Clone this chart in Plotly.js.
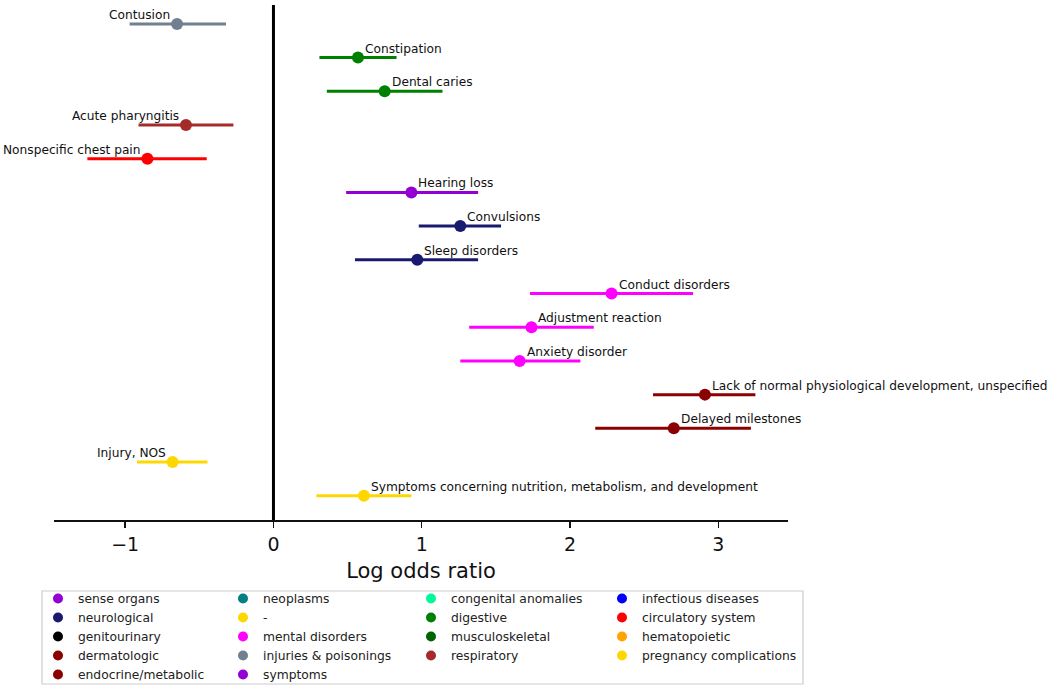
<!DOCTYPE html>
<html>
<head>
<meta charset="utf-8">
<script src="https://cdn.plot.ly/plotly-3.0.1.min.js"></script>
<style>html,body{margin:0;padding:0;background:#fff}#chart{width:1050px;height:689px}</style>
</head>
<body>
<div id="chart"></div>
<script>
// diagnoses, top to bottom
var diagnoses = ["Contusion", "Constipation", "Dental caries", "Acute pharyngitis",
  "Nonspecific chest pain", "Hearing loss", "Convulsions", "Sleep disorders",
  "Conduct disorders", "Adjustment reaction", "Anxiety disorder",
  "Lack of normal physiological development, unspecified", "Delayed milestones",
  "Injury, NOS", "Symptoms concerning nutrition, metabolism, and development"];
var logOdds = [-0.65, 0.57, 0.75, -0.59, -0.85, 0.93, 1.26, 0.97, 2.28, 1.74, 1.66, 2.91, 2.70, -0.68, 0.61];
var ciLow   = [-0.97, 0.31, 0.36, -0.91, -1.255, 0.49, 0.98, 0.55, 1.73, 1.32, 1.26, 2.56, 2.17, -0.92, 0.29];
var ciHigh  = [-0.32, 0.83, 1.14, -0.27, -0.45, 1.38, 1.535, 1.38, 2.83, 2.16, 2.07, 3.25, 3.22, -0.445, 0.93];
var pointColors = ["#708090", "#008000", "#008000", "#a52a2a", "#ff0000", "#9400d3",
  "#191970", "#191970", "#ff00ff", "#ff00ff", "#ff00ff", "#8b0000", "#8b0000", "#ffd700", "#ffd700"];

// legend categories (column-major, 4 columns)
var categories = ["sense organs", "neurological", "genitourinary", "dermatologic", "endocrine/metabolic",
  "neoplasms", "-", "mental disorders", "injuries & poisonings", "symptoms",
  "congenital anomalies", "digestive", "musculoskeletal", "respiratory",
  "infectious diseases", "circulatory system", "hematopoietic", "pregnancy complications"];
var categoryColors = ["#9400d3", "#191970", "#000000", "#8b0000", "#8b0000",
  "#008080", "#ffd700", "#ff00ff", "#708090", "#9400d3",
  "#00fa9a", "#008000", "#006400", "#a52a2a",
  "#0000ff", "#ff0000", "#ffa500", "#ffd700"];
var categoryColumn = [1, 1, 1, 1, 1, 2, 2, 2, 2, 2, 3, 3, 3, 3, 4, 4, 4, 4];

var data = [];
var annotations = [];
diagnoses.forEach(function (name, i) {
  data.push({
    x: [logOdds[i]], y: [name], type: "scatter", mode: "markers",
    marker: {size: 12, color: pointColors[i]},
    error_x: {type: "data", symmetric: false,
      array: [ciHigh[i] - logOdds[i]], arrayminus: [logOdds[i] - ciLow[i]],
      color: pointColors[i], thickness: 3, width: 0},
    showlegend: false, hoverinfo: "skip"
  });
  var left = logOdds[i] < 0;
  annotations.push({
    x: logOdds[i], y: name, xref: "x", yref: "y", text: name, showarrow: false,
    xanchor: left ? "right" : "left", yanchor: "middle",
    xshift: left ? -5 : 5, yshift: 9,
    font: {family: "DejaVu Sans", size: 12.2, color: "#111"}
  });
});

categories.forEach(function (c, i) {
  data.push({
    x: [null], y: [null], type: "scatter", mode: "markers", name: c,
    marker: {size: 10, color: categoryColors[i]},
    legend: categoryColumn[i] === 1 ? "legend" : "legend" + categoryColumn[i],
    showlegend: true
  });
});

function legendAt(px) {
  return {x: px / 1050, y: 1 - 584 / 689, xref: "container", yref: "container",
    xanchor: "left", yanchor: "top", bgcolor: "rgba(0,0,0,0)", borderwidth: 0,
    itemwidth: 30, font: {family: "DejaVu Sans", size: 12.3, color: "#222"}};
}

var layout = {
  width: 1050, height: 689,
  margin: {l: 54, r: 262, t: 3, b: 169, autoexpand: false},
  paper_bgcolor: "#fff", plot_bgcolor: "#fff",
  font: {family: "DejaVu Sans", color: "#111"},
  xaxis: {
    range: [-1.48, 3.47], tickvals: [-1, 0, 1, 2, 3],
    showgrid: false, zeroline: false, showline: true, linecolor: "#111", linewidth: 1.8,
    ticks: "outside", ticklen: 6, tickwidth: 1.5, tickcolor: "#111",
    tickfont: {size: 19, color: "#111"},
    title: {text: "Log odds ratio", font: {size: 21, color: "#111"}, standoff: 10}
  },
  yaxis: {
    type: "category", categoryorder: "array", categoryarray: diagnoses,
    range: [14.72, -0.62], visible: false, showgrid: false, zeroline: false
  },
  shapes: [
    {type: "line", xref: "x", yref: "paper", x0: 0, x1: 0, y0: 0, y1: 0.996,
      line: {color: "#000", width: 3}},
    {type: "rect", xref: "paper", yref: "paper",
      x0: (42 - 54) / 734, x1: (803 - 54) / 734, y0: (520 - 684) / 517, y1: (520 - 591) / 517,
      line: {color: "#cccccc", width: 1.2}, fillcolor: "rgba(0,0,0,0)"}
  ],
  annotations: annotations,
  legend: legendAt(38),
  legend2: legendAt(223),
  legend3: legendAt(411),
  legend4: legendAt(602)
};

Plotly.newPlot("chart", data, layout, {staticPlot: true});
</script>
</body>
</html>
